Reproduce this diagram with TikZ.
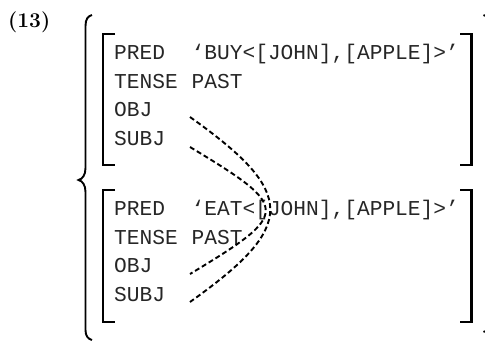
\documentclass[tikz,border=0pt]{standalone}
\usepackage{fontspec}
\newfontfamily\avmfont{Liberation Mono}
\newfontfamily\numfont{Latin Modern Roman}
\begin{document}
\begin{tikzpicture}[x=1pt,y=-1pt,
  avm/.style={font=\avmfont\fontsize{21.2}{24}\selectfont, anchor=base west, inner sep=0pt, text=black!85},
  brk/.style={line width=2.8pt, line join=miter},
  brc/.style={line width=1.9pt},
  link/.style={line width=1.9pt, dash pattern=on 5pt off 3pt}]
\useasboundingbox (0,0) rectangle (485,341);
\clip (0,0) rectangle (485,341);
% label
\node[anchor=base west, inner sep=0pt, font=\numfont\bfseries\fontsize{21}{25}\selectfont] (num) at (8,27) {(13)};
% big left brace
\draw[brc] (92,15) .. controls (88,16) and (85.5,19) .. (85.5,26) -- (85.5,168)
  .. controls (85.5,175) and (82.5,179) .. (78.5,180)
  .. controls (82.5,181) and (85.5,185) .. (85.5,192) -- (85.5,330)
  .. controls (85.5,336) and (88,339) .. (92,340);
% right brace (mostly outside the frame)
\draw[brc] (483.5,15) .. controls (487,16) and (490,19) .. (490,26) -- (490,322)
  .. controls (490,328) and (487,331) .. (483.5,332);
% top AVM brackets
\draw[brk] (115,34) -- (103,34) -- (103,165) -- (115,165);
\draw[brk] (460,34) -- (471.5,34) -- (471.5,165) -- (460,165);
% bottom AVM brackets
\draw[brk] (115,190) -- (103,190) -- (103,322) -- (115,322);
\draw[brk] (460,190) -- (471.5,190) -- (471.5,322) -- (460,322);
% top AVM
\node[avm] (pred1) at (114,59.5) {PRED};
\node[avm] (pv1) at (191.5,59.5) {‘BUY<[JOHN],[APPLE]>’};
\node[avm] (tense1) at (114,88) {TENSE};
\node[avm] (tv1) at (191.5,88) {PAST};
\node[avm] (obj1) at (114,116.5) {OBJ};
\node[avm] (subj1) at (114,145) {SUBJ};
% bottom AVM
\node[avm] (pred2) at (114,215.5) {PRED};
\node[avm] (pv2) at (191.5,215.5) {‘EAT<[JOHN],[APPLE]>’};
\node[avm] (tense2) at (114,244) {TENSE};
\node[avm] (tv2) at (191.5,244) {PAST};
\node[avm] (obj2) at (114,272.5) {OBJ};
\node[avm] (subj2) at (114,301) {SUBJ};
% connector ends
\coordinate (o1) at (190,117);
\coordinate (s1) at (190,147);
\coordinate (o2) at (190,274);
\coordinate (s2) at (190,302);
% reentrancy links
\draw[link] (o1) .. controls (297,193) and (297,226) .. (s2);
\draw[link] (s1) .. controls (291,208) and (291,213) .. (o2);
\end{tikzpicture}
\end{document}
